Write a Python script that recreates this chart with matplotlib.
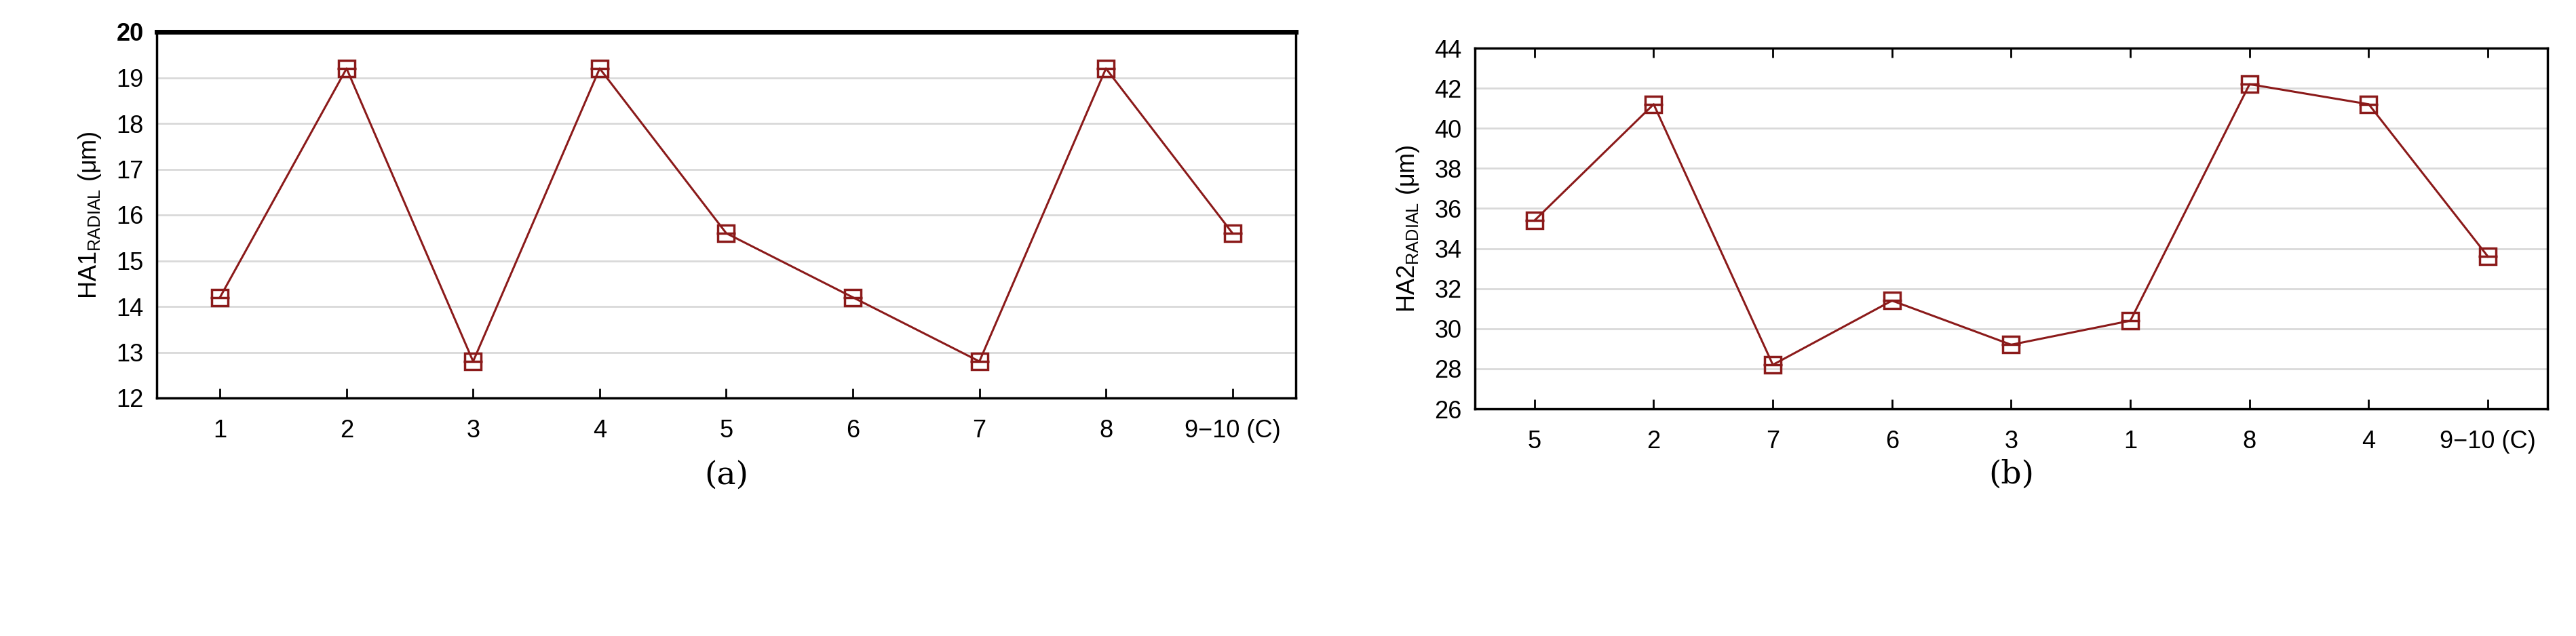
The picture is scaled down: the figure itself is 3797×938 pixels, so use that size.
import matplotlib.pyplot as plt

plt.rcParams['font.family'] = ['Liberation Sans', 'DejaVu Sans']

labels_a = ['1', '2', '3', '4', '5', '6', '7', '8', '9\u221210 (C)']
values_a = [14.2, 19.2, 12.8, 19.2, 15.6, 14.2, 12.8, 19.2, 15.6]
labels_b = ['5', '2', '7', '6', '3', '1', '8', '4', '9\u221210 (C)']
values_b = [35.4, 41.2, 28.2, 31.4, 29.2, 30.4, 42.2, 41.2, 33.6]

red = '#8b1a1a'
W, H = 3798, 938
fig = plt.figure(figsize=(W / 100, H / 100), dpi=100)

def panel(rect, labels, values, ylim, yticks, ylabel, tag, top_ticks, tag_y):
    ax = fig.add_axes(rect)
    x = list(range(len(labels)))
    ax.plot(x, values, color=red, lw=2.2, marker='s', ms=17, mfc='none', mec=red, mew=2.5)
    ax.plot(x, values, ls='none', marker='_', ms=20, mec=red, mew=2.5)
    ax.set_xlim(-0.5, len(labels) - 0.5)
    ax.set_ylim(*ylim)
    ax.set_yticks(yticks)
    ax.set_xticks(x)
    ax.set_xticklabels(labels)
    ax.yaxis.grid(True, color='#d9d9d9', lw=2)
    ax.set_axisbelow(True)
    ax.tick_params(axis='both', labelsize=26, width=2, length=10, direction='in', pad=14)
    ax.tick_params(axis='x', top=top_ticks, pad=22)
    ax.tick_params(axis='y', left=False)
    for s in ax.spines.values():
        s.set_linewidth(2.5)
    ax.set_ylabel(ylabel, fontsize=26, labelpad=14)
    ax.text(0.5, tag_y, tag, transform=ax.transAxes, ha='center', va='top',
            fontsize=34, family='DejaVu Serif')
    return ax

ax1 = panel([231 / W, 1 - 587 / H, 1679 / W, 540 / H], labels_a, values_a, (12, 20),
            range(12, 21), 'HA1$_{\\mathregular{RADIAL}}$ (\u03bcm)', '(a)', False, -0.17)
ax1.spines['top'].set_linewidth(5)
ax1.get_yticklabels()[-1].set_fontweight('bold')

panel([2174 / W, 1 - 603 / H, 1581 / W, 532 / H], labels_b, values_b, (26, 44),
      range(26, 45, 2), 'HA2$_{\\mathregular{RADIAL}}$ (\u03bcm)', '(b)', True, -0.14)

fig.savefig('out.png', dpi=100, facecolor='white')
